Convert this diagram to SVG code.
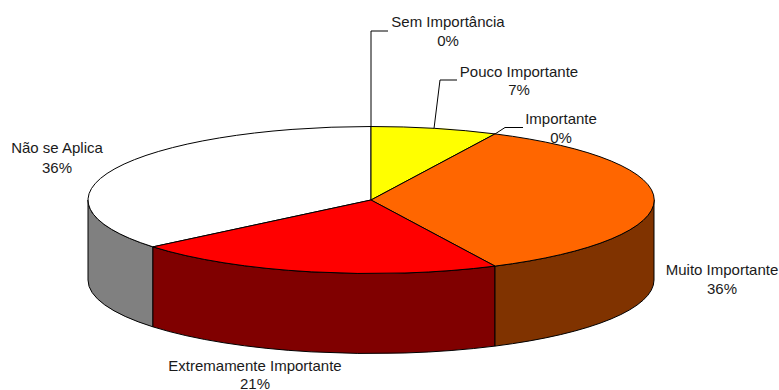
<svg xmlns="http://www.w3.org/2000/svg" width="779" height="390" viewBox="0 0 779 390">
<style>
.s{stroke:#000;stroke-width:1;stroke-linejoin:round}
.l{fill:none;stroke:#000;stroke-width:1}
text{font-family:"Liberation Sans",Arial,sans-serif;font-size:15px;fill:#1a1a1a;text-anchor:middle}
</style>
<rect width="779" height="390" fill="#fff"/>
<g id="sides">
<path class="s" fill="#808080" d="M152.95,246.85 A283,73.5 0 0 1 88,200 L88,280 A283,73.5 0 0 0 152.95,326.85 Z"/>
<path class="s" fill="#800000" d="M495,266.1 A283,73.5 0 0 1 152.95,246.85 L152.95,326.85 A283,73.5 0 0 0 495,346.1 Z"/>
<path class="s" fill="#803300" d="M654,200 A283,73.5 0 0 1 495,266.1 L495,346.1 A283,73.5 0 0 0 654,280 Z"/>
</g>
<g id="slice-nao-se-aplica">
<path class="s" fill="#ffffff" d="M371,200 L152.95,246.85 A283,73.5 0 0 1 371,126.5 Z"/>
<text x="57" y="153">Não se Aplica</text>
<text x="57" y="173">36%</text>
</g>
<g id="slice-pouco-importante">
<path class="s" fill="#ffff00" d="M371,200 L371,126.5 A283,73.5 0 0 1 495,133.9 Z"/>
<text x="519" y="77">Pouco Importante</text>
<text x="519" y="95">7%</text>
</g>
<g id="slice-muito-importante">
<path class="s" fill="#ff6600" d="M371,200 L495,133.9 A283,73.5 0 0 1 495,266.1 Z"/>
<text x="722" y="275">Muito Importante</text>
<text x="722" y="294">36%</text>
</g>
<g id="slice-extremamente-importante">
<path class="s" fill="#ff0000" d="M371,200 L495,266.1 A283,73.5 0 0 1 152.95,246.85 Z"/>
<text x="255" y="371">Extremamente Importante</text>
<text x="255" y="389">21%</text>
</g>
<g id="label-sem-importancia">
<text x="448" y="27">Sem Importância</text>
<text x="448" y="46">0%</text>
</g>
<g id="label-importante">
<text x="561" y="124">Importante</text>
<text x="561" y="143">0%</text>
</g>
<g id="connectors">
<polyline class="l" points="371,126.5 371,31 388,31"/>
<polyline class="l" points="434,128.5 440,80 457,80"/>
<polyline class="l" points="495,134 505,127.5 523,127.5"/>
</g>
</svg>
